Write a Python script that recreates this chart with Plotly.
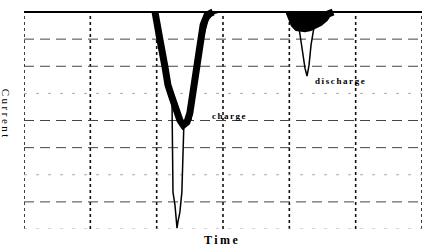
import plotly.graph_objects as go

# Time / Current in screen divisions (baseline = 0, downward = negative current)
baseline_t = [0.0, 6.0]
baseline_i = [0.0, 0.0]

charge_thick_t = [1.975, 2.02, 2.05, 2.126, 2.17, 2.23, 2.29, 2.35, 2.40, 2.457, 2.50, 2.548, 2.61, 2.653, 2.70, 2.76, 2.85]
charge_thick_i = [0.0, -0.48, -1.03, -2.03, -2.69, -3.14, -3.62, -3.99, -4.17, -4.06, -3.73, -2.88, -2.03, -1.03, -0.48, -0.11, 0.0]

charge_thin_t = [2.231, 2.246, 2.276, 2.29, 2.307, 2.32, 2.35, 2.38, 2.397, 2.41]
charge_thin_i = [-3.25, -6.64, -7.12, -7.68, -7.97, -7.75, -7.38, -6.64, -5.46, -4.17]

charge_edge_t = [2.518, 2.593, 2.653, 2.714, 2.774, 2.85, 2.955]
charge_edge_i = [-3.99, -2.51, -1.59, -0.85, -0.30, -0.07, 0.0]

discharge_thick_t = [3.995, 4.03, 4.07, 4.12, 4.18, 4.236, 4.31, 4.387, 4.46, 4.538, 4.58, 4.66]
discharge_thick_i = [0.0, -0.25, -0.45, -0.58, -0.62, -0.62, -0.58, -0.52, -0.40, -0.24, -0.08, 0.0]

discharge_thin_t = [4.146, 4.16, 4.206, 4.236, 4.267, 4.297, 4.327, 4.357, 4.372]
discharge_thin_i = [-0.59, -0.85, -1.59, -2.07, -2.36, -1.96, -1.22, -0.66, -0.55]

x_grid = [0, 1, 2, 3, 4, 5, 6]
y_grid_dashed = [-1, -2, -4, -5, -7]
y_grid_faint = [-3, -6, -8]

fig = go.Figure()

for xv in x_grid:
    fig.add_shape(type="line", x0=xv, x1=xv, y0=-8, y1=0, xref="x", yref="y",
                  line=dict(color="#111", width=1.6, dash="dot"), layer="below")
for yv in y_grid_dashed:
    fig.add_shape(type="line", x0=0, x1=6, y0=yv, y1=yv, xref="x", yref="y",
                  line=dict(color="#444", width=1, dash="10px,6px"), layer="below")
for yv in y_grid_faint:
    fig.add_shape(type="line", x0=0, x1=6, y0=yv, y1=yv, xref="x", yref="y",
                  line=dict(color="#aaa", width=1, dash="3px,9px"), layer="below")

# solid baseline
fig.add_trace(go.Scatter(x=baseline_t, y=baseline_i, mode="lines",
                         line=dict(color="black", width=2), showlegend=False))
fig.add_trace(go.Scatter(x=charge_thin_t, y=charge_thin_i, mode="lines",
                         line=dict(color="black", width=1.5), showlegend=False))
fig.add_trace(go.Scatter(x=charge_edge_t, y=charge_edge_i, mode="lines",
                         line=dict(color="black", width=1.2), showlegend=False))
fig.add_trace(go.Scatter(x=discharge_thin_t, y=discharge_thin_i, mode="lines",
                         line=dict(color="black", width=1.5), showlegend=False))
fig.add_trace(go.Scatter(x=charge_thick_t, y=charge_thick_i, mode="lines",
                         line=dict(color="black", width=7), showlegend=False))
fig.add_trace(go.Scatter(x=discharge_thick_t, y=discharge_thick_i, mode="lines",
                         fill="tozeroy", fillcolor="black",
                         line=dict(color="black", width=7), showlegend=False))

font = "Liberation Serif"
fig.add_annotation(x=2.8, y=-3.85, xref="x", yref="y", text="<span style='letter-spacing:1.5px'>charge</span>",
                   showarrow=False, xanchor="left", yanchor="middle",
                   font=dict(family=font, size=9, color="black", weight="bold"))
fig.add_annotation(x=4.35, y=-2.55, xref="x", yref="y", text="<span style='letter-spacing:1.6px'>discharge</span>",
                   showarrow=False, xanchor="left", yanchor="middle",
                   font=dict(family=font, size=9, color="black", weight="bold"))
fig.add_annotation(x=0.497, y=0, xref="paper", yref="paper", yshift=-11,
                   text="<span style='letter-spacing:2.5px'>Time</span>",
                   showarrow=False, xanchor="center", yanchor="middle",
                   font=dict(family=font, size=12, color="black", weight="bold"))
fig.add_annotation(x=0, y=-3.75, xref="paper", yref="y", xshift=-18,
                   text="<span style='letter-spacing:2.5px'>Current</span>",
                   showarrow=False, textangle=90, xanchor="center", yanchor="middle",
                   font=dict(family=font, size=11, color="black"))

fig.update_layout(
    width=423, height=246,
    margin=dict(l=24, r=1, t=8, b=17),
    paper_bgcolor="white", plot_bgcolor="white",
    xaxis=dict(range=[0, 6], showgrid=False, zeroline=False, showticklabels=False, ticks="", showline=False, fixedrange=True),
    yaxis=dict(range=[-8, 0.1475], showgrid=False, zeroline=False, showticklabels=False, ticks="", showline=False, fixedrange=True),
)
fig.write_html("out.html", config={"displayModeBar": False},
               post_script="document.body.style.margin='0px';document.body.style.overflow='hidden';")
